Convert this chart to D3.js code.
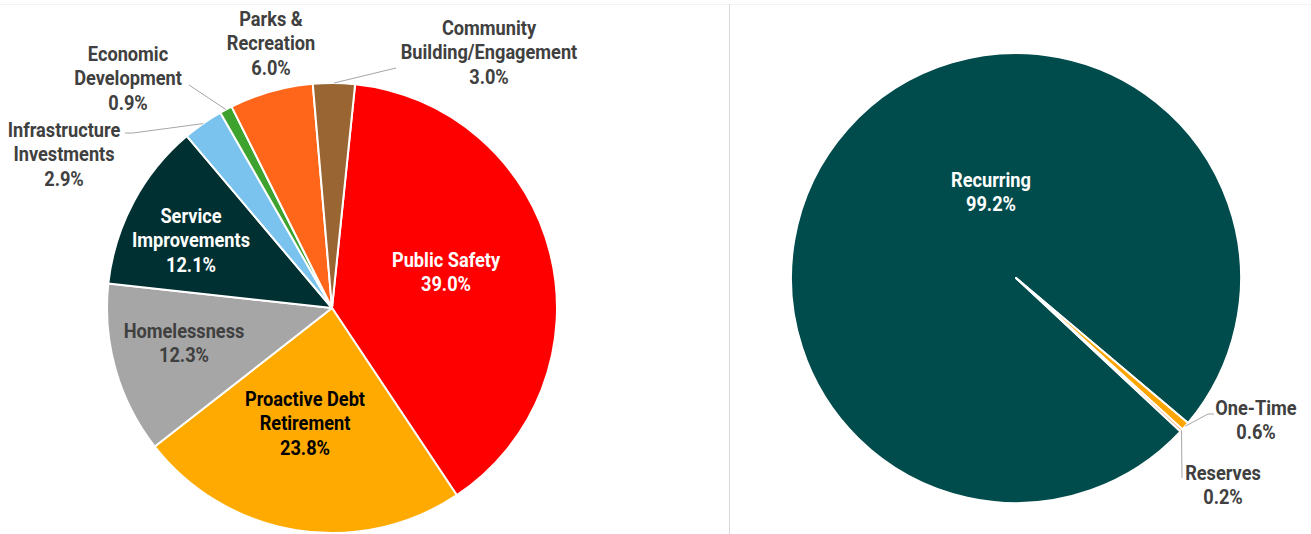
<!DOCTYPE html>
<html>
<head>
<meta charset="utf-8">
<script src="https://cdn.jsdelivr.net/npm/d3@7"></script>
<style>
  body { margin: 0; background: #fff; }
  svg text { font-family: "Liberation Sans Narrow", "Arial Narrow", Roboto, sans-serif; font-weight: bold; font-size: 20px; }
</style>
</head>
<body>
<div id="svg_container"></div>
<script>
// Data
var budgetCategories = ["Public Safety", "Proactive Debt Retirement", "Homelessness", "Service Improvements",
  "Infrastructure Investments", "Economic Development", "Parks & Recreation", "Community Building/Engagement"];
var budgetShares = [39.0, 23.8, 12.3, 12.1, 2.9, 0.9, 6.0, 3.0];
var budgetLabelLines = [["Public Safety"], ["Proactive Debt", "Retirement"], ["Homelessness"], ["Service", "Improvements"],
  ["Infrastructure", "Investments"], ["Economic", "Development"], ["Parks &", "Recreation"], ["Community", "Building/Engagement"]];

var fundingCategories = ["Recurring", "One-Time", "Reserves"];
var fundingShares = [99.2, 0.6, 0.2];
var fundingLabelLines = [["Recurring"], ["One-Time"], ["Reserves"]];

// Styles
var budgetColors = ["#FF0000", "#FFAA00", "#A6A6A6", "#003031", "#7AC3EE", "#3EA22E", "#FF661A", "#996633"];
var budgetTextColors = ["#FFFFFF", "#000000", "#404040", "#FFFFFF", "#404040", "#404040", "#404040", "#404040"];
var fundingColors = ["#004B4B", "#FFA500", "#F4B183"];
var fundingTextColors = ["#FFFFFF", "#404040", "#404040"];

// Label layout (first baseline), leader line bends
var budgetLabelPos = [[446, 267], [305, 406], [184, 338], [191, 223], [64, 137], [128, 61], [271, 26], [489, 35]];
var budgetLeaders = [null, null, null, null, [[133, 133], [125, 133]], [[189, 85]], null, [[396, 68]]];
var fundingLabelPos = [[991, 187], [1256, 415], [1223, 480]];
var fundingLeaders = [null, [[1208, 414], [1214, 414]], [[1182, 478]]];

var width = 1311, height = 534, radius = 225;
var deg = Math.PI / 180;
var narrow = 0.91; // squeeze Roboto toward the narrow face of the original

var svg = d3.select("#svg_container")
    .append("svg")
    .attr("width", width)
    .attr("height", height);

// faint chart border and divider
svg.append("line").attr("x1", 0).attr("x2", width).attr("y1", 4.5).attr("y2", 4.5)
    .attr("stroke", "#F2F2F2").attr("stroke-width", 1);
svg.append("line").attr("x1", 729.5).attr("x2", 729.5).attr("y1", 4).attr("y2", height)
    .attr("stroke", "#D9D9D9").attr("stroke-width", 1);

function draw_pie(cx, cy, values, colors, startDeg, lines, textColors, labelPos, leaders) {
    var pie = d3.pie().sort(null).value(function(d) { return d; })
        .startAngle(startDeg * deg).endAngle(startDeg * deg + 2 * Math.PI);
    var arc = d3.arc().innerRadius(0).outerRadius(radius);
    var arcs = pie(values);

    var g = svg.append("g").attr("transform", "translate(" + cx + "," + cy + ")");
    g.selectAll("path").data(arcs).enter()
        .append("path")
        .attr("d", arc)
        .attr("fill", function(d, i) { return colors[i]; })
        .attr("stroke", "#fff")
        .attr("stroke-width", 2)
        .attr("stroke-linejoin", "round");

    // leader lines from slice edge to label
    arcs.forEach(function(d, i) {
        if (!leaders[i]) return;
        var mid = (d.startAngle + d.endAngle) / 2;
        var pts = [[cx + radius * Math.sin(mid), cy - radius * Math.cos(mid)]].concat(leaders[i]);
        svg.append("path")
            .attr("d", d3.line()(pts))
            .attr("fill", "none")
            .attr("stroke", "#A6A6A6")
            .attr("stroke-width", 1);
    });

    // labels
    arcs.forEach(function(d, i) {
        var t = svg.append("text")
            .attr("text-anchor", "middle")
            .attr("transform", "translate(" + labelPos[i][0] + "," + labelPos[i][1] + ") scale(" + narrow + ",1)")
            .attr("fill", textColors[i]);
        var rows = lines[i].concat([d3.format(".1f")(values[i]) + "%"]);
        rows.forEach(function(s, k) {
            t.append("tspan")
                .attr("x", 0)
                .attr("y", k * 24.5)
                .text(s);
        });
    });
}

draw_pie(332, 308, budgetShares, budgetColors, 5.9, budgetLabelLines, budgetTextColors, budgetLabelPos, budgetLeaders);
draw_pie(1016, 278, fundingShares, fundingColors, 133, fundingLabelLines, fundingTextColors, fundingLabelPos, fundingLeaders);
</script>
</body>
</html>
